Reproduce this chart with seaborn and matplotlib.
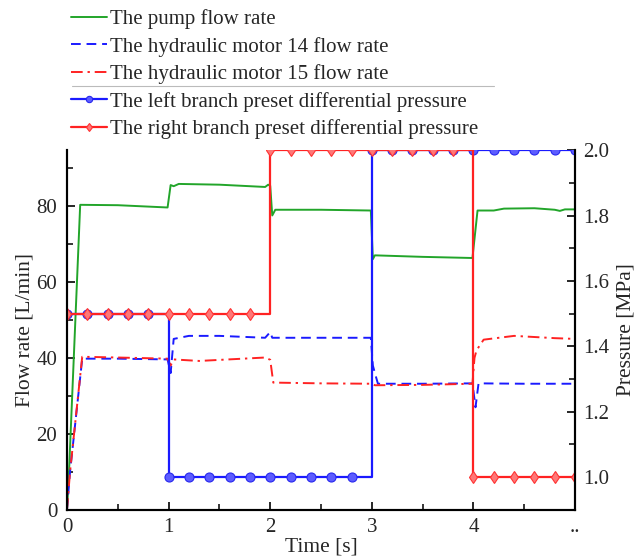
import numpy as np
import pandas as pd
import matplotlib
matplotlib.use("Agg")
import matplotlib.pyplot as plt
from matplotlib.lines import Line2D
from matplotlib.ticker import MultipleLocator
import seaborn as sns

# flow rates [L/min]
t_pump = [0, 0.02, 0.13, 0.5, 0.99, 1.02, 1.05, 1.1, 1.5, 1.95, 1.98, 2.0, 2.02, 2.05,
          2.5, 2.99, 3.01, 3.03, 3.5, 3.99, 4.04, 4.2, 4.3, 4.6, 4.8, 4.85, 4.9, 5.0]
pump = [0, 10, 80.3, 80.2, 79.6, 85.5, 85.2, 85.8, 85.6, 85.0, 85.6, 85.3, 77.5, 79.0,
        79.0, 78.8, 66.0, 67.0, 66.6, 66.3, 78.8, 78.8, 79.3, 79.4, 79.0, 78.7, 79.1, 79.1]

t_m14 = [0, 0.03, 0.15, 0.5, 0.99, 1.02, 1.05, 1.2, 1.5, 1.95, 2.0, 2.02, 2.5, 2.99,
         3.01, 3.03, 3.06, 3.5, 3.99, 4.02, 4.05, 4.5, 5.0]
m14 = [0, 10, 39.8, 39.8, 39.6, 36, 45.0, 45.8, 45.8, 45.3, 46.8, 45.3, 45.3, 45.3,
       38, 36, 33.2, 33.2, 33.3, 27, 33.3, 33.2, 33.2]

t_m15 = [0, 0.03, 0.15, 0.5, 0.99, 1.02, 1.05, 1.3, 1.95, 2.0, 2.03, 2.5, 3.0, 3.03,
         3.5, 3.99, 4.01, 4.03, 4.1, 4.4, 4.8, 5.0]
m15 = [0, 10, 40.3, 40.1, 39.8, 38, 39.6, 39.2, 40.1, 39.5, 33.5, 33.3, 33.2, 32.8,
       32.9, 33.2, 40, 42, 44.8, 45.8, 45.2, 45.0]

# preset differential pressures [MPa], sampled every 0.2 s
t_p = [round(0.2 * i, 1) for i in range(26)]
p_left = [1.5] * 5 + [1.0] * 10 + [2.0] * 11
p_right = [1.5] * 10 + [2.0] * 10 + [1.0] * 6

x_ticks = [0, 1, 2, 3, 4, 5]
x_labels = ["0", "1", "2", "3", "4", ".."]

sns.set_style("ticks")
plt.rcParams["font.family"] = ["Liberation Serif", "DejaVu Serif"]
plt.rcParams["font.size"] = 15

green = "#22a52a"
blue = "#1a1aff"
red = "#ff2222"

fig, ax = plt.subplots(figsize=(6.44, 5.56), dpi=100)
fig.subplots_adjust(left=0.104, right=0.893, bottom=0.083, top=0.730)
ax2 = ax.twinx()

sns.lineplot(x=t_pump, y=pump, ax=ax, color=green, lw=1.4, label="The pump flow rate",
             legend=False)
sns.lineplot(x=t_m14, y=m14, ax=ax, color=blue, lw=1.4, linestyle=(0, (5, 3)),
             label="The hydraulic motor 14 flow rate", legend=False)
sns.lineplot(x=t_m15, y=m15, ax=ax, color=red, lw=1.4, linestyle=(0, (6, 2.5, 1.2, 2.5)),
             label="The hydraulic motor 15 flow rate", legend=False)

sns.lineplot(x=t_p, y=p_left, ax=ax2, color=blue, lw=1.6, drawstyle="steps-post",
             marker="o", markersize=6.5, markerfacecolor="#5c5cff", markeredgecolor="#2828ee",
             markeredgewidth=0.8, label="The left branch preset differential pressure",
             legend=False)
sns.lineplot(x=t_p, y=p_right, ax=ax2, color=red, lw=1.6, drawstyle="steps-post",
             marker="d", markersize=6.5, markerfacecolor="#ff7777", markeredgecolor="#ff3333",
             markeredgewidth=0.8, label="The right branch preset differential pressure",
             legend=False)

ax.set_xlim(0, 5)
ax.set_ylim(0, 94.7)
ax2.set_ylim(0.9, 2.0)
ax.set_xticks(x_ticks)
ax.set_xticklabels(x_labels)
ax.set_yticks([0, 20, 40, 60, 80])
ax2.set_yticks([1.0, 1.2, 1.4, 1.6, 1.8, 2.0])
ax.xaxis.set_minor_locator(MultipleLocator(0.5))
ax.yaxis.set_minor_locator(MultipleLocator(10))
ax2.yaxis.set_minor_locator(MultipleLocator(0.1))

for a in (ax, ax2):
    a.tick_params(which="major", direction="in", length=6, width=1.4, labelsize=15)
    a.tick_params(which="minor", direction="in", length=4.5, width=1.3)
    for s in a.spines.values():
        s.set_linewidth(1.5)
        s.set_color("black")
    a.spines["top"].set_visible(False)
ax.tick_params(axis="x", which="both", top=False, pad=6)
ax.tick_params(axis="y", pad=7)
ax2.tick_params(axis="y", pad=6)

ax.set_xlabel("Time [s]", fontsize=15.5, labelpad=0)
ax.set_ylabel("Flow rate [L/min]", fontsize=15.5, labelpad=1)
ax2.set_ylabel("Pressure [MPa]", fontsize=15.5, labelpad=5)

h1, l1 = ax.get_legend_handles_labels()
h2, l2 = ax2.get_legend_handles_labels()
fig.legend(h1 + h2, l1 + l2, loc="upper left", bbox_to_anchor=(0.110, 0.9833),
           frameon=False, fontsize=15, handlelength=1.73, handletextpad=0.15,
           labelspacing=0.365, borderpad=0, borderaxespad=0, markerscale=0.7)
fig.add_artist(Line2D([0.112, 0.767], [0.845, 0.845], transform=fig.transFigure,
                      color="#bbbbbb", lw=0.8))

fig.savefig("out.png", dpi=100)
